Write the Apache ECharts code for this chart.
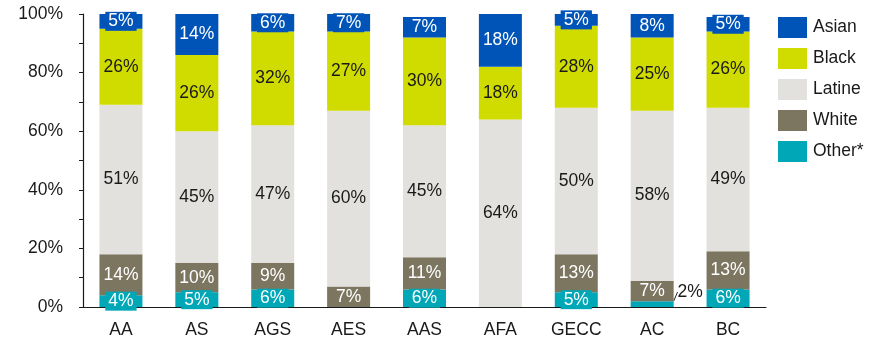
<!DOCTYPE html>
<html>
<head>
<meta charset="utf-8">
<script src="https://cdn.jsdelivr.net/npm/echarts@6/dist/echarts.min.js"></script>
<style>
  html, body { margin: 0; padding: 0; background: #fff; }
  #chart { width: 877px; height: 341px; }
</style>
</head>
<body>
<div id="chart"></div>
<script>
// Share of each group per program, in percent
const categories = ['AA', 'AS', 'AGS', 'AES', 'AAS', 'AFA', 'GECC', 'AC', 'BC'];
const other  = [4, 5, 6, 0, 6, 0, 5, 2, 6];
const white  = [14, 10, 9, 7, 11, 0, 13, 7, 13];
const latine = [51, 45, 47, 60, 45, 64, 50, 58, 49];
const black  = [26, 26, 32, 27, 30, 18, 28, 25, 26];
const asian  = [5, 14, 6, 7, 7, 18, 5, 8, 5];
const yTicks = [0, 20, 40, 60, 80, 100];

const FONT = '"Liberation Sans", Arial, sans-serif';
const FONT_SIZE = 17.5;

const groups = [
  { name: 'Other*', values: other,  color: '#00a7b6', text: '#ffffff', boxed: true },
  { name: 'White',  values: white,  color: '#7c7661', text: '#ffffff', boxed: false },
  { name: 'Latine', values: latine, color: '#e2e1dd', text: '#1a1a1a', boxed: false },
  { name: 'Black',  values: black,  color: '#d0dc00', text: '#1a1a1a', boxed: false },
  { name: 'Asian',  values: asian,  color: '#0054b8', text: '#ffffff', boxed: true }
];

// The AC "Other*" slice is too thin for an inside label; it is pulled out to the right
const calloutIndex = categories.indexOf('AC');

const series = groups.map(function (g) {
  const isOther = g.name === 'Other*';
  return {
    name: g.name,
    type: 'bar',
    stack: 'total',
    barWidth: 43,
    itemStyle: { color: g.color },
    label: {
      show: true,
      position: 'inside',
      formatter: '{c}%',
      color: g.text,
      fontFamily: FONT,
      fontSize: FONT_SIZE,
      backgroundColor: g.boxed ? g.color : 'transparent',
      padding: g.boxed ? [1, 3, 0, 3] : 0
    },
    labelLine: isOther ? { show: true, lineStyle: { color: '#222', width: 1 }, length2: 0 } : undefined,
    labelLayout: isOther ? function (p) {
      if (p.dataIndex === calloutIndex) {
        return { dx: 38, dy: -12 };
      }
      return {};
    } : undefined,
    data: g.values.map(function (v, i) {
      if (v === 0) {
        return { value: 0, label: { show: false } };
      }
      if (isOther && i === calloutIndex) {
        return {
          value: v,
          label: { color: '#1a1a1a', backgroundColor: 'transparent', padding: 0 }
        };
      }
      return v;
    })
  };
});

const chart = echarts.init(document.getElementById('chart'));
chart.setOption({
  animation: false,
  textStyle: { fontFamily: FONT },
  grid: { left: 83, right: 111, top: 14, bottom: 34, containLabel: false },
  legend: {
    orient: 'vertical',
    left: 773,
    top: 12,
    itemWidth: 29,
    itemHeight: 21,
    itemGap: 10,
    icon: 'rect',
    data: ['Asian', 'Black', 'Latine', 'White', 'Other*'],
    textStyle: { fontFamily: FONT, fontSize: FONT_SIZE, color: '#1a1a1a', padding: [0, 0, 0, 1] }
  },
  xAxis: {
    type: 'category',
    data: categories,
    axisLine: { lineStyle: { color: '#1a1a1a', width: 1.2 } },
    axisTick: { show: false },
    axisLabel: { color: '#1a1a1a', fontSize: FONT_SIZE, margin: 14, fontFamily: FONT }
  },
  yAxis: {
    type: 'value',
    min: 0,
    max: 100,
    interval: 10,
    axisLine: { show: true, lineStyle: { color: '#1a1a1a', width: 1.2 } },
    axisTick: { show: true, length: 4, lineStyle: { color: '#1a1a1a' } },
    splitLine: { show: false },
    axisLabel: {
      color: '#1a1a1a',
      fontSize: FONT_SIZE,
      margin: 20,
      fontFamily: FONT,
      formatter: function (v) { return yTicks.indexOf(v) >= 0 ? v + '%' : ''; }
    }
  },
  series: series
});
</script>
</body>
</html>
